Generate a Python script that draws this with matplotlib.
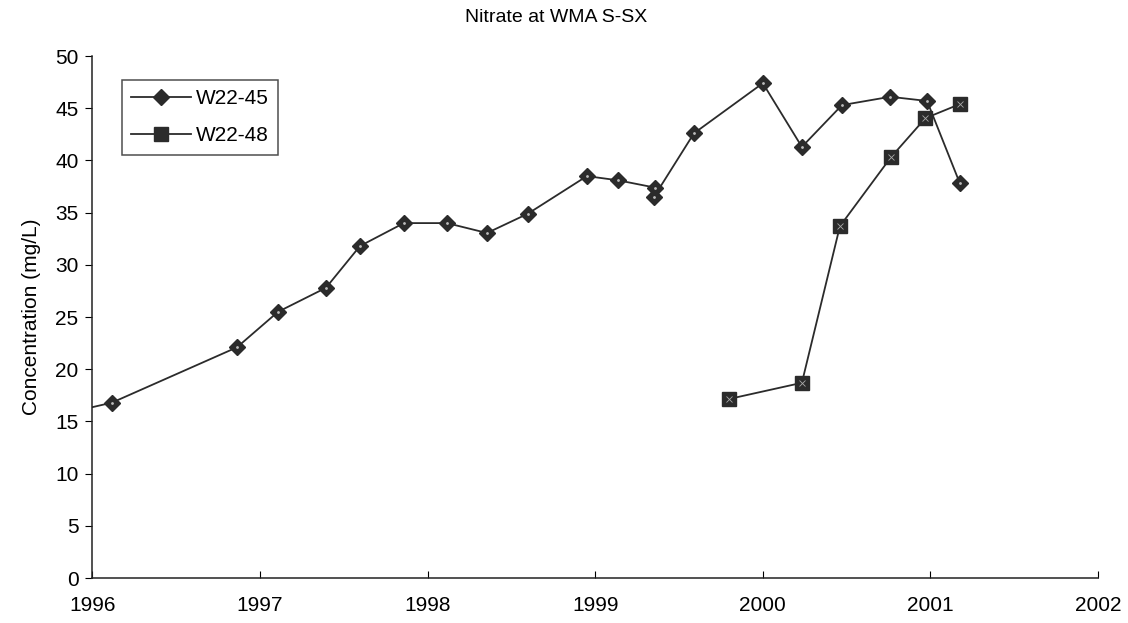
import matplotlib
matplotlib.use("Agg")
import matplotlib.pyplot as plt

plt.rcParams['font.family'] = ['Liberation Sans', 'DejaVu Sans']

# W22-45 (first point lies just before 1996 and is clipped by the axes)
yearsA = [1995.90, 1996.116, 1996.862, 1997.107, 1997.393, 1997.596, 1997.858,
          1998.115, 1998.354, 1998.598, 1998.95, 1999.136, 1999.357, 1999.35,
          1999.589, 2000.0, 2000.233, 2000.472, 2000.76, 2000.98, 2001.176]
nitrateA = [16.0, 16.8, 22.1, 25.5, 27.8, 31.8, 34.0,
            34.0, 33.05, 34.9, 38.5, 38.1, 37.4, 36.5,
            42.6, 47.4, 41.3, 45.3, 46.1, 45.7, 37.8]

# W22-48
yearsB = [1999.798, 2000.233, 2000.46, 2000.764, 2000.97, 2001.176]
nitrateB = [17.15, 18.7, 33.7, 40.3, 44.05, 45.4]

labels = ["W22-45", "W22-48"]
xticks = [1996, 1997, 1998, 1999, 2000, 2001, 2002]
yticks = list(range(0, 55, 5))

fig = plt.figure(figsize=(11.28, 6.23), dpi=100)
ax = fig.add_axes([0.082, 0.0722, 0.8914, 0.8378])

lc = '#2b2b2b'
ax.plot(yearsA, nitrateA, color=lc, linewidth=1.3, marker='D', markersize=8.5,
        markerfacecolor=lc, markeredgecolor=lc, label=labels[0])
ax.plot(yearsB, nitrateB, color=lc, linewidth=1.3, marker='s', markersize=9.5,
        markerfacecolor=lc, markeredgecolor=lc, label=labels[1])
# small light speckle inside the markers, like the original
ax.plot(yearsA[1:], nitrateA[1:], linestyle='none', marker='.', markersize=2,
        color='#bbbbbb')
ax.plot(yearsB, nitrateB, linestyle='none', marker='x', markersize=4,
        markeredgewidth=0.6, color='#aaaaaa')

ax.set_xlim(1996, 2002)
ax.set_ylim(0, 50)
ax.set_xticks(xticks)
ax.set_yticks(yticks)
ax.tick_params(axis='x', direction='in', length=5, labelsize=15, pad=13)
ax.tick_params(axis='y', direction='out', length=5, labelsize=15, pad=5)
for s in ['top', 'right']:
    ax.spines[s].set_visible(False)
for s in ['left', 'bottom']:
    ax.spines[s].set_color('#222222')
    ax.spines[s].set_linewidth(1.1)

ax.set_ylabel("Concentration (mg/L)", fontsize=15, labelpad=10)
fig.text(0.493, 0.972, "Nitrate at WMA S-SX", ha='center', va='center', fontsize=14)

leg = ax.legend(loc='upper left', bbox_to_anchor=(0.029, 0.954), fontsize=15,
                frameon=True, fancybox=False, handlelength=2.9,
                borderpad=0.45, labelspacing=0.85, handletextpad=0.2,
                borderaxespad=0)
leg.get_frame().set_edgecolor('#222222')
leg.get_frame().set_linewidth(1.1)

fig.savefig("out.png", dpi=100)
